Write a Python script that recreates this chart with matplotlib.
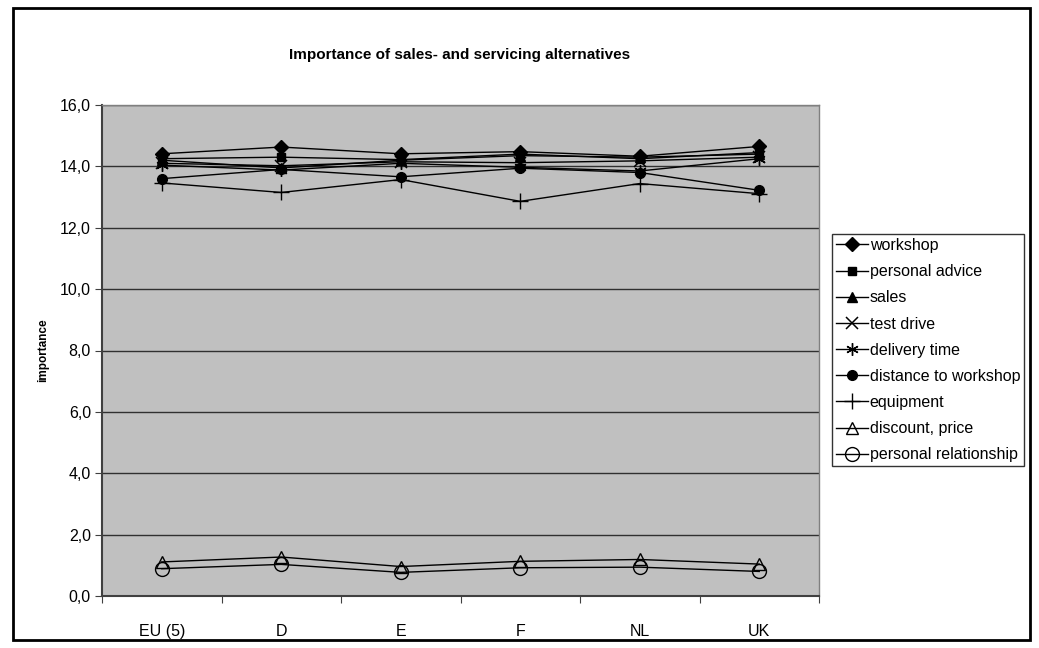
import matplotlib
matplotlib.use("Agg")
import matplotlib.pyplot as plt
from matplotlib.ticker import FuncFormatter, FixedLocator
from matplotlib.patches import Rectangle

plt.rcParams['font.family'] = ['Liberation Sans', 'DejaVu Sans']

categories = ["EU (5)", "D", "E", "F", "NL", "UK"]

workshop = [14.41, 14.63, 14.41, 14.48, 14.33, 14.65]
personal_advice = [14.25, 14.30, 14.22, 14.40, 14.25, 14.45]
sales = [14.20, 13.95, 14.20, 14.35, 14.30, 14.40]
test_drive = [14.10, 14.02, 14.15, 14.12, 14.18, 14.30]
delivery_time = [14.04, 13.88, 14.10, 13.97, 13.85, 14.25]
distance_to_workshop = [13.60, 13.90, 13.66, 13.94, 13.80, 13.22]
equipment = [13.46, 13.15, 13.57, 12.86, 13.44, 13.11]
discount_price = [1.11, 1.27, 0.96, 1.13, 1.19, 1.04]
personal_relationship = [0.89, 1.03, 0.77, 0.92, 0.94, 0.80]

series_names = ["workshop", "personal advice", "sales", "test drive", "delivery time",
                "distance to workshop", "equipment", "discount, price", "personal relationship"]
series_values = [workshop, personal_advice, sales, test_drive, delivery_time,
                 distance_to_workshop, equipment, discount_price, personal_relationship]
styles = [
    dict(marker='D', ms=7, mfc='black'),
    dict(marker='s', ms=6, mfc='black'),
    dict(marker='^', ms=7, mfc='black'),
    dict(marker='x', ms=8, mfc='black', mew=1.1),
    dict(marker=(6, 2, 0), ms=9, mfc='black', mew=1.0),
    dict(marker='o', ms=7, mfc='black'),
    dict(marker='+', ms=12, mfc='black', mew=1.0),
    dict(marker='^', ms=8, mfc='none', mew=1.0),
    dict(marker='o', ms=10, mfc='none', mew=1.0),
]

fig = plt.figure(figsize=(10.39, 6.48), dpi=100)
# outer border
fig.patches.append(Rectangle((13/1039, 8/648), (1030-13)/1039, (640-8)/648,
                             transform=fig.transFigure, fill=False, ec='black', lw=2))

ax = fig.add_axes([102/1039, (648-596)/648, (819-102)/1039, (596-105)/648])
ax.set_facecolor('#C0C0C0')

x = list(range(len(categories)))
for name, vals, st in zip(series_names, series_values, styles):
    ax.plot(x, vals, color='black', lw=1.0, mec='black', label=name, **st)

ax.set_xlim(-0.5, len(categories) - 0.5)
ax.set_ylim(0, 16)
ax.set_yticks([0, 2, 4, 6, 8, 10, 12, 14, 16])
ax.yaxis.set_major_formatter(FuncFormatter(lambda v, p: f"{v:.1f}".replace('.', ',')))
ax.grid(axis='y', color='#303030', lw=1.0)
ax.set_axisbelow(True)

ax.xaxis.set_major_locator(FixedLocator([i - 0.5 for i in range(len(categories) + 1)]))
ax.xaxis.set_major_formatter(FuncFormatter(lambda v, p: ""))
ax.xaxis.set_minor_locator(FixedLocator(x))
ax.set_xticklabels(categories, minor=True)
ax.tick_params(axis='x', which='minor', length=0, pad=20, labelsize=11.5)
ax.tick_params(axis='x', which='major', length=5, direction='out', color='#404040')
ax.tick_params(axis='y', length=5, direction='out', color='#404040', labelsize=11.5, pad=3)

for side in ['left', 'bottom']:
    ax.spines[side].set_color('#404040')
    ax.spines[side].set_linewidth(1.5)
for side in ['top', 'right']:
    ax.spines[side].set_color('#808080')
    ax.spines[side].set_linewidth(1.0)

ax.set_ylabel('importance', fontsize=8.5, fontweight='bold', labelpad=8)
fig.text(460/1039, 1 - 55/648, 'Importance of sales- and servicing alternatives',
         ha='center', va='center', fontsize=11, fontweight='bold')

leg = fig.legend(loc='upper left', bbox_to_anchor=(832/1039, 1 - 234/648),
                 bbox_transform=fig.transFigure, frameon=True, fancybox=False,
                 edgecolor='black', fontsize=11.5, handlelength=2.0, handletextpad=0.1,
                 labelspacing=0.70, borderpad=0.25, borderaxespad=0)
leg.get_frame().set_linewidth(1.0)

fig.savefig('out.png', dpi=100)
